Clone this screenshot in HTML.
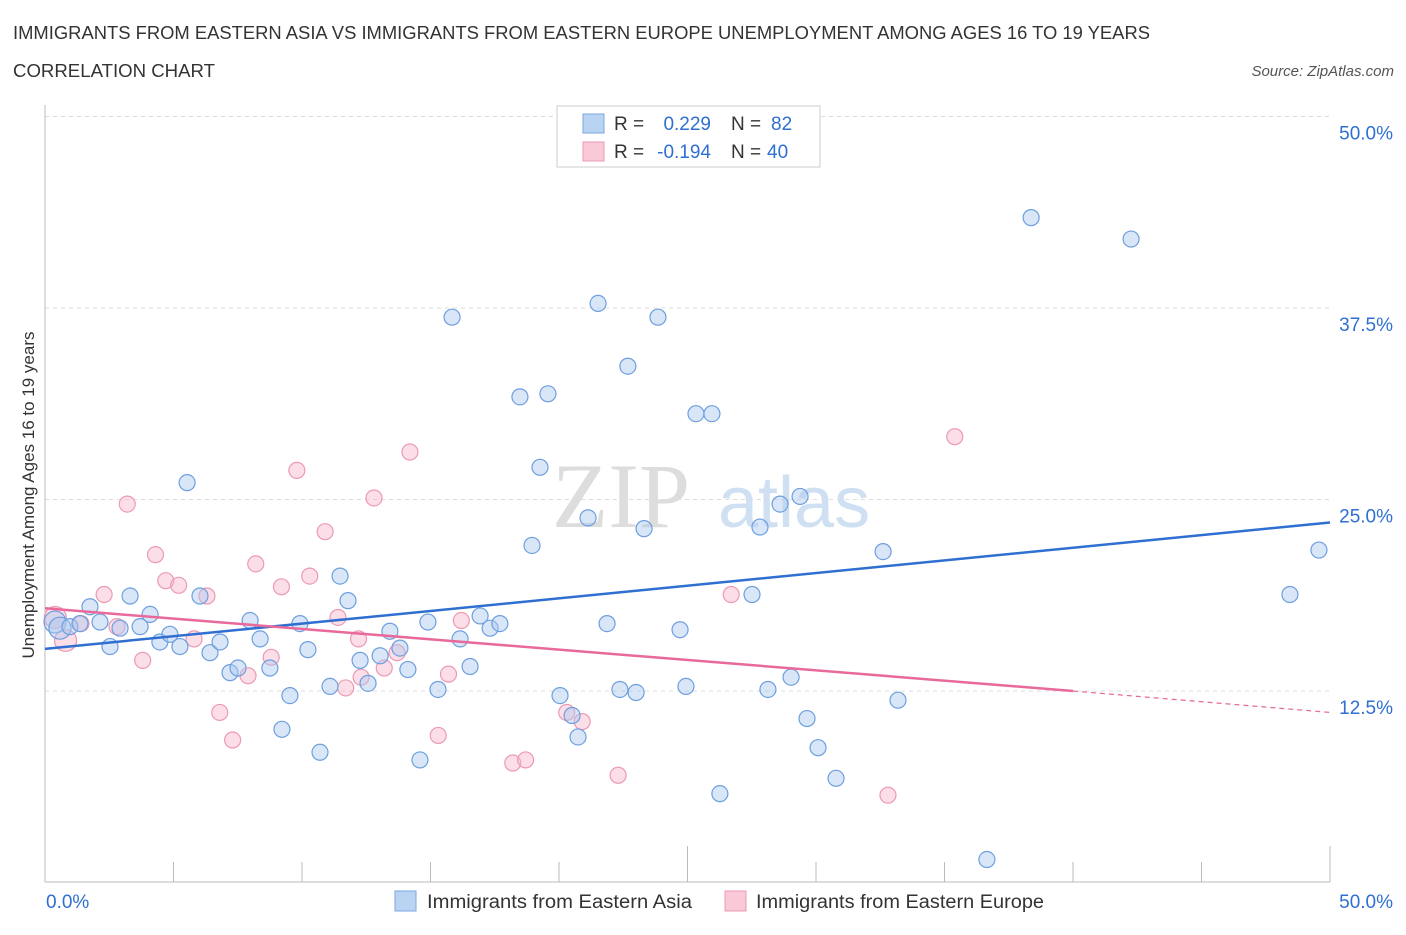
<!DOCTYPE html>
<html><head><meta charset="utf-8"><style>
body{margin:0;background:#fff;font-family:"Liberation Sans",sans-serif;}
</style></head><body>
<svg id="chart" width="1406" height="930" xmlns="http://www.w3.org/2000/svg" font-family="Liberation Sans, sans-serif">
<text x="13" y="39" font-size="18" fill="#333" textLength="1137" lengthAdjust="spacingAndGlyphs">IMMIGRANTS FROM EASTERN ASIA VS IMMIGRANTS FROM EASTERN EUROPE UNEMPLOYMENT AMONG AGES 16 TO 19 YEARS</text>
<text x="13" y="77" font-size="18" fill="#333" textLength="202" lengthAdjust="spacingAndGlyphs">CORRELATION CHART</text>
<text x="1394" y="76" font-size="15" fill="#555" font-style="italic" text-anchor="end">Source: ZipAtlas.com</text>
<text x="552" y="527" font-size="92" fill="#ddd" font-family="Liberation Serif, serif">ZIP</text>
<text x="718" y="527" font-size="72" fill="#cfe0f2">atlas</text>
<g id="grid"></g>
<g id="axes"></g>
<g id="pts"></g>
<g id="trends"></g>
<text transform="translate(34,495) rotate(-90)" font-size="17" fill="#333" text-anchor="middle">Unemployment Among Ages 16 to 19 years</text>
<g>
<rect x="557" y="106" width="263" height="61" fill="#fff" stroke="#ccc"/>
<rect x="583" y="114" width="21" height="19" fill="#b9d3f3" stroke="#7aa7e0"/>
<rect x="583" y="142" width="21" height="19" fill="#f9c9d7" stroke="#ec9ab3"/>
<text x="614" y="130" font-size="19" fill="#333">R =</text>
<text x="711" y="130" font-size="19" fill="#2f6fd1" text-anchor="end">0.229</text>
<text x="731" y="130" font-size="19" fill="#333">N =</text>
<text x="771" y="130" font-size="19" fill="#2f6fd1">82</text>
<text x="614" y="158" font-size="19" fill="#333">R =</text>
<text x="711" y="158" font-size="19" fill="#2f6fd1" text-anchor="end">-0.194</text>
<text x="731" y="158" font-size="19" fill="#333">N =</text>
<text x="767" y="158" font-size="19" fill="#2f6fd1">40</text>
</g>
<g>
<rect x="395" y="891" width="21" height="20" fill="#b9d3f3" stroke="#7aa7e0"/>
<text x="427" y="908" font-size="19" fill="#333" textLength="265" lengthAdjust="spacingAndGlyphs">Immigrants from Eastern Asia</text>
<rect x="725" y="891" width="21" height="20" fill="#f9c9d7" stroke="#ec9ab3"/>
<text x="756" y="908" font-size="19" fill="#333" textLength="288" lengthAdjust="spacingAndGlyphs">Immigrants from Eastern Europe</text>
</g>
</svg>
<script>
const yTicks=[12.5,25,37.5,50];
const yTickLabels=["12.5%","25.0%","37.5%","50.0%"];
const xTickLabels=["0.0%","50.0%"];
const asiaX=[0.39,0.58,0.97,1.36,1.75,2.14,2.53,2.92,3.31,3.70,4.09,4.47,4.86,5.25,5.53,6.03,6.42,6.81,7.20,7.51,7.98,8.37,8.75,9.22,9.53,9.92,10.23,10.70,11.09,11.48,11.79,12.26,12.57,13.04,13.42,13.81,14.12,14.59,14.90,15.29,15.84,16.15,16.54,16.93,17.32,17.70,18.48,18.95,19.26,19.57,20.04,20.51,20.74,21.13,21.52,21.87,22.37,22.68,23.00,23.31,23.85,24.71,24.94,25.33,25.95,26.26,27.51,27.82,28.13,28.60,29.03,29.38,29.65,30.08,30.78,32.61,33.19,36.65,38.37,42.26,48.44,49.57];
const asiaY=[17.0,16.6,16.7,16.9,18.0,17.0,15.4,16.6,18.7,16.7,17.5,15.7,16.2,15.4,26.1,18.7,15.0,15.7,13.7,14.0,17.1,15.9,14.0,10.0,12.2,16.9,15.2,8.5,12.8,20.0,18.4,14.5,13.0,14.8,16.4,15.3,13.9,8.0,17.0,12.6,36.9,15.9,14.1,17.4,16.6,16.9,31.7,22.0,27.1,31.9,12.2,10.9,9.5,23.8,37.8,16.9,12.6,33.7,12.4,23.1,36.9,16.5,12.8,30.6,30.6,5.8,18.8,23.2,12.6,24.7,13.4,25.2,10.7,8.8,6.8,21.6,11.9,1.5,43.4,42.0,18.8,21.7];
const euX=[0.4,0.8,1.4,2.3,2.8,3.2,3.8,4.3,4.7,5.2,5.8,6.3,6.8,7.3,7.9,8.2,8.8,9.2,9.8,10.3,10.9,11.4,11.7,12.2,12.3,12.8,13.2,13.7,14.2,15.3,15.7,16.2,18.2,18.7,20.3,20.9,22.3,26.7,32.8,35.4];
const euY=[17.3,15.8,16.9,18.8,16.7,24.7,14.5,21.4,19.7,19.4,15.9,18.7,11.1,9.3,13.5,20.8,14.7,19.3,26.9,20.0,22.9,17.3,12.7,15.9,13.4,25.1,14.0,15.0,28.1,9.6,13.6,17.1,7.8,8.0,11.1,10.5,7.0,18.8,5.7,29.1];
const asiaTrend=[15.25,23.5];
const euTrend=[17.9,12.5,11.1];
const NS="http://www.w3.org/2000/svg";
const X=v=>45+v*25.7, Y=v=>882.5-v*15.32;
function mk(tag,attrs,parent){const e=document.createElementNS(NS,tag);for(const k in attrs)e.setAttribute(k,attrs[k]);parent.appendChild(e);return e;}
const grid=document.getElementById('grid'),axes=document.getElementById('axes'),pts=document.getElementById('pts'),tr=document.getElementById('trends');
yTicks.forEach((t,i)=>{
 const l=mk('line',{x1:45,x2:1330,y1:Y(t),y2:Y(t),stroke:'#ddd','stroke-dasharray':'4,4'},grid);
 
 
 const tx=mk('text',{x:1393,y:Y(t)+23,'font-size':19,fill:'#2f6fd1','text-anchor':'end'},axes);tx.textContent=yTickLabels[i];
 
 
});
const ya=mk('line',{x1:45,x2:45,y1:105,y2:882,stroke:'#bbb'},axes);


const xa=mk('line',{x1:45,x2:1330,y1:882,y2:882,stroke:'#bbb'},axes);


for(let i=0;i<=10;i++){const v=i*5;const tk=mk('line',{x1:X(v),x2:X(v),y1:(i==5||i==10)?846:862,y2:882,stroke:'#bbb'},axes);
 
 }
[[0,'start',46],[50,'end',1393]].forEach((a,i)=>{const t=mk('text',{x:a[2],y:908,'font-size':19,fill:'#2f6fd1','text-anchor':a[1]},axes);t.textContent=xTickLabels[i];
 
 });
euX.forEach((x,i)=>{const c=mk('circle',{cx:X(x),cy:Y(euY[i]),r:i<2?11:8,fill:'rgba(246,182,203,0.45)',stroke:'#ec9ab3','stroke-width':1.2},pts);
 
 });
asiaX.forEach((x,i)=>{const c=mk('circle',{cx:X(x),cy:Y(asiaY[i]),r:i<2?11:8,fill:'rgba(170,200,240,0.45)',stroke:'#6d9fde','stroke-width':1.2},pts);
 
 });
const bl=mk('line',{x1:X(0),y1:Y(asiaTrend[0]),x2:X(50),y2:Y(asiaTrend[1]),stroke:'#2f6fd1','stroke-width':2.5},tr);


const pl=mk('line',{x1:X(0),y1:Y(euTrend[0]),x2:X(40),y2:Y(euTrend[1]),stroke:'#e8699a','stroke-width':2.5},tr);


const pd=mk('line',{x1:X(40),y1:Y(euTrend[1]),x2:X(50),y2:Y(euTrend[2]),stroke:'#e8699a','stroke-width':1.2,'stroke-dasharray':'5,4'},tr);


</script>
</body></html>
